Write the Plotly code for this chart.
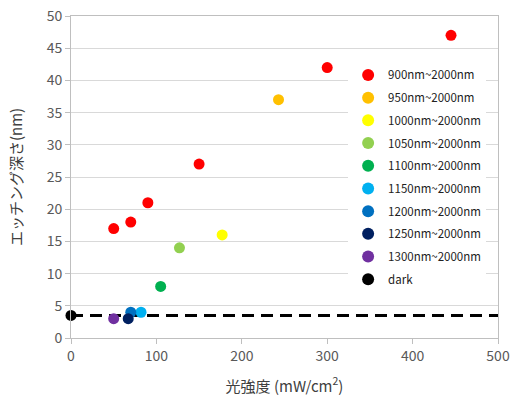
import plotly.graph_objects as go

series_names = ["900nm~2000nm", "950nm~2000nm", "1000nm~2000nm", "1050nm~2000nm",
                "1100nm~2000nm", "1150nm~2000nm", "1200nm~2000nm", "1250nm~2000nm",
                "1300nm~2000nm", "dark"]
series_x = [[50, 70, 90, 150, 300, 445], [243], [177], [127], [105], [82], [70], [67], [50], [0]]
series_y = [[17, 18, 21, 27, 42, 47], [37], [16], [14], [8], [4], [4], [3], [3], [3.5]]
colors = ["#FF0000", "#FFC000", "#FFFF00", "#92D050", "#00B050", "#00B0F0",
          "#0070C0", "#002060", "#7030A0", "#000000"]
dark_x = [0, 500]
dark_y = [3.5, 3.5]

fig = go.Figure()
fig.add_trace(go.Scatter(x=dark_x, y=dark_y, mode="lines", showlegend=False,
                         line=dict(color="black", width=3, dash="12px,7px"), cliponaxis=False))
for i, (n, xs, ys, c) in enumerate(zip(series_names, series_x, series_y, colors)):
    fig.add_trace(go.Scatter(x=xs, y=ys, mode="markers", name=n, legendgroup=str(i),
                             marker=dict(color=c, size=11), cliponaxis=False))

font = "Noto Sans CJK JP, Noto Sans, sans-serif"
fig.update_layout(
    width=510, height=401,
    margin=dict(l=71, r=12, t=16, b=63, autoexpand=False),
    paper_bgcolor="white", plot_bgcolor="white",
    font=dict(family=font, color="#595959", size=14),
    legend=dict(x=0.649, y=0.862, xanchor="left", yanchor="top", bgcolor="white",
                font=dict(size=11.5, color="#222222"), tracegroupgap=3.7, itemsizing="constant"),
    xaxis=dict(range=[0, 500], dtick=100, showgrid=False, zeroline=False, automargin=False,
               showline=True, linecolor="#BFBFBF", mirror=True, ticklabeloverflow="allow",
               ticks="outside", ticklen=5, tickcolor="#BFBFBF",
               title=dict(text="光強度 (mW/cm<sup>2</sup>)", font=dict(size=15, color="#404040"), standoff=17)),
    yaxis=dict(range=[0, 50], dtick=5, showgrid=True, gridcolor="#D9D9D9", zeroline=False, automargin=False,
               showline=True, linecolor="#BFBFBF", mirror=True, ticklabeloverflow="allow",
               ticks="outside", ticklen=5, tickcolor="#BFBFBF",
               title=dict(text="エッチング深さ(nm)", font=dict(size=15, color="#404040"), standoff=20)),
)
fig.write_html("out.html", config={"displayModeBar": False},
               post_script="document.body.style.margin='0';")
